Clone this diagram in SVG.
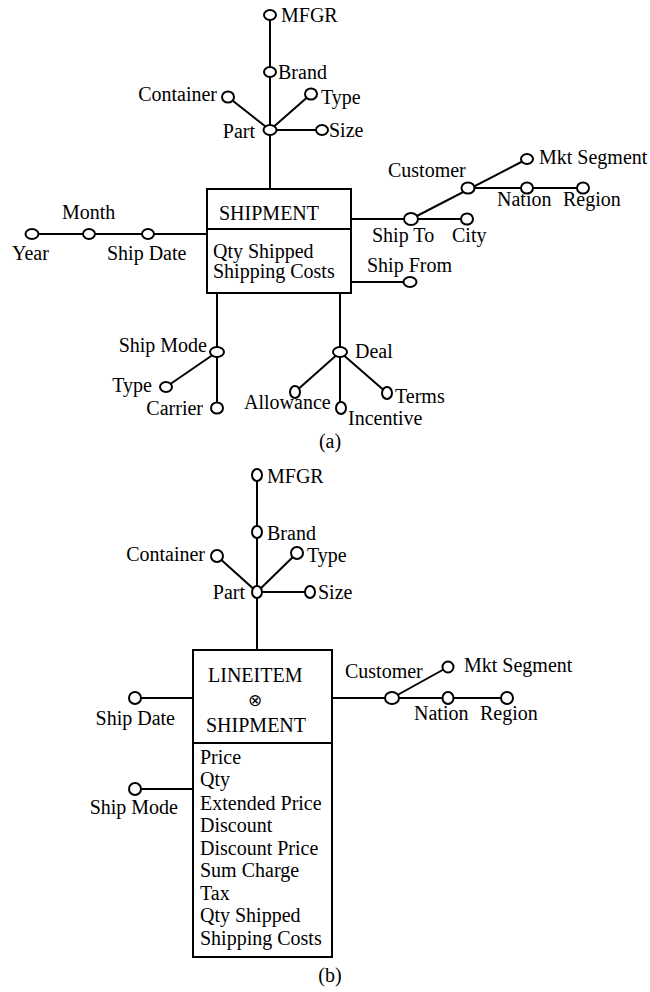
<svg xmlns="http://www.w3.org/2000/svg" width="650" height="992" viewBox="0 0 650 992">
<style>
text{font-family:"Liberation Serif","Times New Roman",serif;font-size:20px;fill:#000}
.e line,.e path{stroke:#000;stroke-width:2;fill:none}
.n ellipse{fill:#fff;stroke:#000;stroke-width:2}
.box{fill:#fff;stroke:#000;stroke-width:2}
.r{text-anchor:end}
.m{text-anchor:middle}
</style>
<rect width="650" height="992" fill="#fff"/>
<g id="connectors" class="e">
<!-- (a) -->
<line x1="270" y1="15" x2="270" y2="190"/>
<line x1="270" y1="130" x2="228" y2="97"/>
<line x1="270" y1="130" x2="311" y2="94"/>
<line x1="270" y1="130" x2="322" y2="130"/>
<line x1="32" y1="234" x2="207" y2="234"/>
<line x1="351" y1="219" x2="467" y2="219"/>
<line x1="411" y1="219" x2="527" y2="159"/>
<line x1="468" y1="188" x2="583" y2="188"/>
<line x1="351" y1="282" x2="410" y2="282"/>
<line x1="217" y1="293" x2="217" y2="408"/>
<line x1="217" y1="352" x2="166" y2="387"/>
<line x1="340" y1="293" x2="340" y2="408"/>
<line x1="340" y1="352" x2="295" y2="392"/>
<line x1="340" y1="352" x2="387" y2="393"/>
<!-- (b) -->
<line x1="257" y1="475" x2="257" y2="650"/>
<line x1="257" y1="592" x2="217" y2="556"/>
<line x1="257" y1="592" x2="297" y2="553"/>
<line x1="257" y1="592" x2="310" y2="592"/>
<line x1="135" y1="698" x2="193" y2="698"/>
<line x1="135" y1="789" x2="193" y2="789"/>
<line x1="332" y1="698" x2="507" y2="698"/>
<line x1="392" y1="698" x2="448" y2="667"/>
</g>
<g id="shipment">
<rect class="box" x="207" y="189" width="144" height="104"/>
<line x1="207" y1="229" x2="351" y2="229" stroke="#000" stroke-width="2"/>
<text x="219" y="220">SHIPMENT</text>
<text x="213" y="258">Qty Shipped</text>
<text x="213" y="278">Shipping Costs</text>
</g>
<g id="lineitem-shipment">
<rect class="box" x="193" y="650" width="139" height="307"/>
<line x1="193" y1="743" x2="332" y2="743" stroke="#000" stroke-width="2"/>
<text x="208" y="682">LINEITEM</text>
<text x="255" y="706" class="m" style="font-size:17px">⊗</text>
<text x="206" y="732">SHIPMENT</text>
<text x="200" y="764">Price</text>
<text x="200" y="786">Qty</text>
<text x="200" y="810">Extended Price</text>
<text x="200" y="832">Discount</text>
<text x="200" y="855">Discount Price</text>
<text x="200" y="877">Sum Charge</text>
<text x="200" y="900">Tax</text>
<text x="200" y="922">Qty Shipped</text>
<text x="200" y="945">Shipping Costs</text>
</g>
<g class="n">
<g id="a-mfgr"><ellipse cx="270" cy="15" rx="6" ry="5"/><text x="281" y="22">MFGR</text></g>
<g id="a-brand"><ellipse cx="270" cy="72" rx="6" ry="5"/><text x="278" y="79">Brand</text></g>
<g id="a-container"><ellipse cx="228" cy="97" rx="6" ry="5.5"/><text x="217" y="101" class="r">Container</text></g>
<g id="a-type"><ellipse cx="311" cy="94" rx="6" ry="5.5"/><text x="321" y="104">Type</text></g>
<g id="a-part"><ellipse cx="270" cy="130" rx="6.5" ry="5"/><text x="255" y="138" class="r">Part</text></g>
<g id="a-size"><ellipse cx="322" cy="130" rx="6" ry="5"/><text x="329" y="137">Size</text></g>
<g id="a-year"><ellipse cx="32" cy="234" rx="6.5" ry="5"/><text x="12" y="260">Year</text></g>
<g id="a-month"><ellipse cx="89" cy="234" rx="6" ry="5"/><text x="62" y="219">Month</text></g>
<g id="a-shipdate"><ellipse cx="148" cy="234" rx="6" ry="5"/><text x="107" y="260">Ship Date</text></g>
<g id="a-shipto"><ellipse cx="411" cy="219" rx="7" ry="6"/><text x="372" y="242">Ship To</text></g>
<g id="a-city"><ellipse cx="467" cy="219" rx="6" ry="5.5"/><text x="452" y="242">City</text></g>
<g id="a-customer"><ellipse cx="468" cy="188" rx="6.5" ry="5.5"/><text x="388" y="177">Customer</text></g>
<g id="a-mktsegment"><ellipse cx="527" cy="159" rx="6" ry="5"/><text x="539" y="164">Mkt Segment</text></g>
<g id="a-nation"><ellipse cx="527" cy="188" rx="6" ry="5.5"/><text x="497" y="206">Nation</text></g>
<g id="a-region"><ellipse cx="583" cy="188" rx="6" ry="5.5"/><text x="563" y="206">Region</text></g>
<g id="a-shipfrom"><ellipse cx="410" cy="282" rx="6.5" ry="5"/><text x="367" y="272">Ship From</text></g>
<g id="a-shipmode"><ellipse cx="217" cy="352" rx="7" ry="5"/><text x="207" y="352" class="r">Ship Mode</text></g>
<g id="a-smtype"><ellipse cx="166" cy="387" rx="6" ry="5"/><text x="152" y="392" class="r">Type</text></g>
<g id="a-carrier"><ellipse cx="217" cy="408" rx="6" ry="5.5"/><text x="203" y="415" class="r">Carrier</text></g>
<g id="a-deal"><ellipse cx="340" cy="352" rx="7" ry="5"/><text x="355" y="358">Deal</text></g>
<g id="a-allowance"><ellipse cx="295" cy="392" rx="5" ry="6"/><text x="244" y="409">Allowance</text></g>
<g id="a-incentive"><ellipse cx="341" cy="408" rx="5" ry="6"/><text x="348" y="425">Incentive</text></g>
<g id="a-terms"><ellipse cx="387" cy="393" rx="5" ry="6"/><text x="395" y="403">Terms</text></g>
<g id="b-mfgr"><ellipse cx="257" cy="475" rx="5" ry="6"/><text x="267" y="483">MFGR</text></g>
<g id="b-brand"><ellipse cx="257" cy="532" rx="5" ry="6"/><text x="267" y="540">Brand</text></g>
<g id="b-container"><ellipse cx="217" cy="556" rx="6" ry="6"/><text x="205" y="561" class="r">Container</text></g>
<g id="b-type"><ellipse cx="297" cy="553" rx="6" ry="6"/><text x="307" y="562">Type</text></g>
<g id="b-part"><ellipse cx="257" cy="592" rx="5" ry="6"/><text x="245" y="599" class="r">Part</text></g>
<g id="b-size"><ellipse cx="310" cy="592" rx="5" ry="6"/><text x="318" y="599">Size</text></g>
<g id="b-shipdate"><ellipse cx="135" cy="698" rx="6" ry="6"/><text x="175" y="725" class="r">Ship Date</text></g>
<g id="b-shipmode"><ellipse cx="135" cy="789" rx="6" ry="6"/><text x="178" y="814" class="r">Ship Mode</text></g>
<g id="b-customer"><ellipse cx="392" cy="698" rx="7" ry="6"/><text x="345" y="678">Customer</text></g>
<g id="b-mktsegment"><ellipse cx="448" cy="667" rx="5.5" ry="5.5"/><text x="464" y="672">Mkt Segment</text></g>
<g id="b-nation"><ellipse cx="448" cy="698" rx="5.5" ry="6"/><text x="414" y="720">Nation</text></g>
<g id="b-region"><ellipse cx="507" cy="698" rx="6" ry="6"/><text x="480" y="720">Region</text></g>
</g>
<text x="330" y="448" class="m">(a)</text>
<text x="330" y="982" class="m">(b)</text>
</svg>
